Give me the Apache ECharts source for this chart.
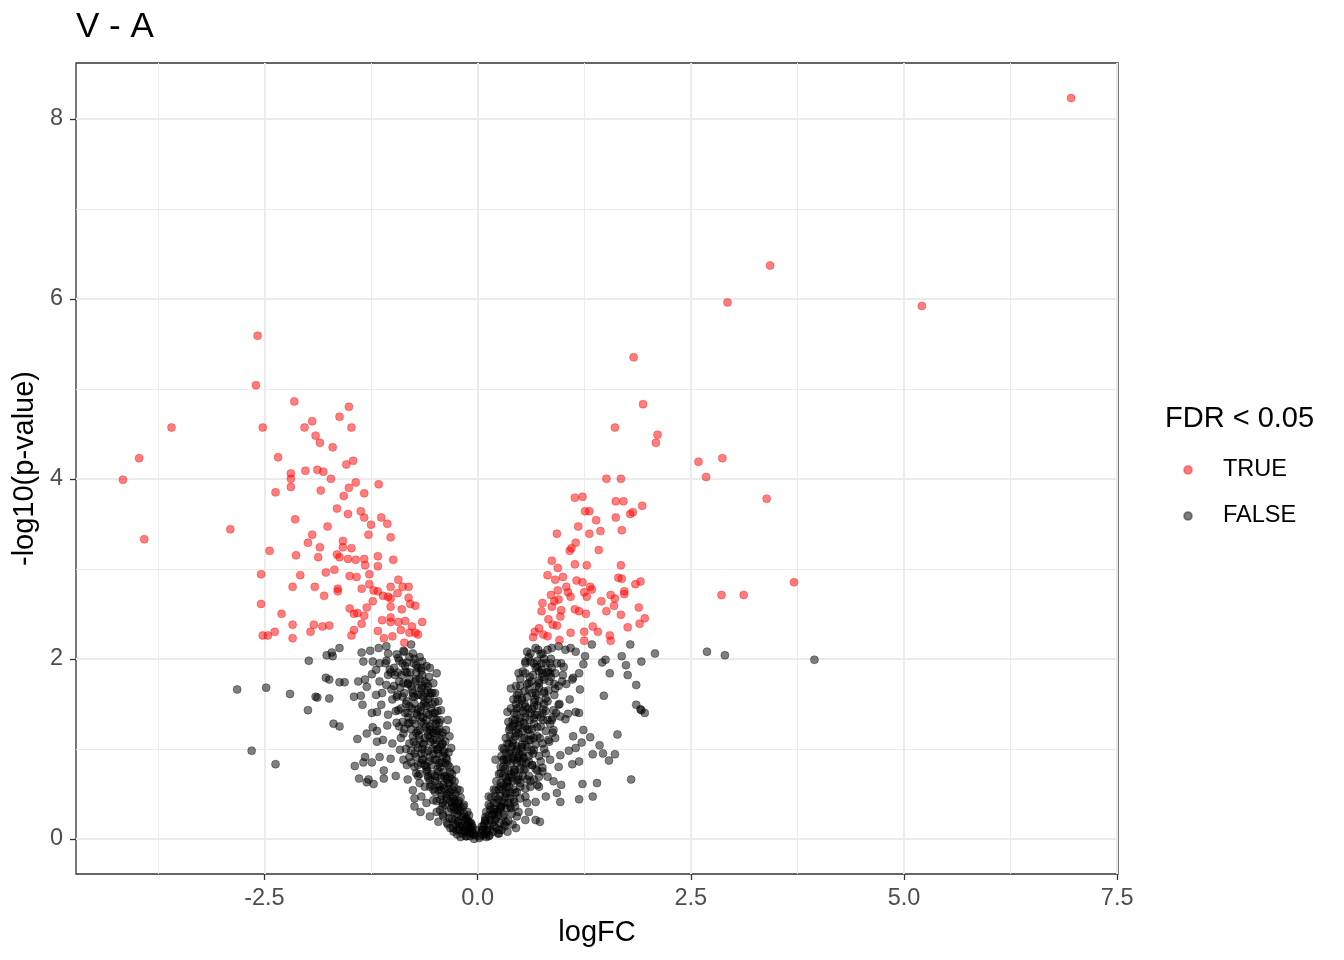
<!DOCTYPE html>
<html>
<head>
<meta charset="utf-8">
<script src="https://cdn.jsdelivr.net/npm/echarts@6/dist/echarts.min.js"></script>
<style>
  html, body { margin: 0; padding: 0; background: #fff; }
  #chart { width: 1344px; height: 960px; }
</style>
</head>
<body>
<div id="chart"></div>
<script>
// volcano plot V - A, values as [logFC, -log10(p)]
var truePoints = [
  // left arm
  [-2.58, 5.59], [-2.60, 5.04], [-2.15, 4.86], [-1.51, 4.80], [-1.62, 4.69], [-3.59, 4.57], [-2.52, 4.57],
  [-2.03, 4.57], [-1.94, 4.64], [-1.48, 4.57], [-1.90, 4.48], [-1.85, 4.40], [-1.70, 4.35], [-3.97, 4.23],
  [-2.34, 4.24], [-1.54, 4.16], [-1.46, 4.20], [-4.16, 3.99], [-2.19, 4.06], [-2.19, 4.00], [-2.19, 3.91],
  [-2.02, 4.09], [-1.88, 4.10], [-1.81, 4.08], [-1.72, 4.00], [-2.37, 3.85], [-1.84, 3.87], [-1.51, 3.90],
  [-1.43, 3.96], [-1.57, 3.81], [-1.33, 3.84], [-1.16, 3.94], [-1.65, 3.67], [-1.52, 3.61], [-1.37, 3.64],
  [-1.33, 3.57], [-1.25, 3.49], [-1.13, 3.57], [-1.06, 3.50], [-1.02, 3.35], [-1.28, 3.38], [-2.14, 3.55],
  [-1.76, 3.47], [-2.90, 3.44], [-3.91, 3.33], [-1.94, 3.38], [-1.99, 3.29], [-1.85, 3.24], [-1.58, 3.31],
  [-1.58, 3.24], [-1.48, 3.23], [-2.44, 3.20], [-2.13, 3.15], [-1.87, 3.13], [-1.65, 3.16], [-1.62, 3.13],
  [-1.52, 3.11], [-1.43, 3.10], [-1.33, 3.11], [-1.32, 3.04], [-1.17, 3.14], [-1.17, 3.03], [-0.99, 3.10],
  [-2.54, 2.94], [-2.08, 2.93], [-1.78, 2.96], [-1.68, 2.99], [-1.50, 2.92], [-1.42, 2.91], [-1.27, 2.94],
  [-2.17, 2.80], [-1.91, 2.80], [-1.64, 2.78], [-1.64, 2.75], [-1.80, 2.70], [-1.36, 2.78], [-1.27, 2.83],
  [-1.22, 2.76], [-1.17, 2.75], [-1.11, 2.70], [-1.02, 2.80], [-0.93, 2.88], [-0.88, 2.80], [-0.81, 2.80],
  [-0.94, 2.73], [-1.05, 2.69], [-0.81, 2.68], [-2.54, 2.61], [-2.30, 2.50], [-2.17, 2.38], [-1.92, 2.38],
  [-1.82, 2.36], [-1.74, 2.37], [-1.96, 2.30], [-1.50, 2.56], [-1.45, 2.50], [-1.41, 2.51], [-1.33, 2.48],
  [-1.30, 2.57], [-1.23, 2.64], [-1.02, 2.67], [-1.02, 2.58], [-0.89, 2.55], [-0.79, 2.61], [-0.73, 2.59],
  [-1.36, 2.39], [-1.45, 2.32], [-1.48, 2.26], [-1.17, 2.31], [-1.12, 2.43], [-1.02, 2.46], [-1.02, 2.41],
  [-0.93, 2.41], [-0.85, 2.42], [-0.65, 2.41], [-0.77, 2.36], [-0.73, 2.29], [-0.80, 2.29], [-0.90, 2.32],
  [-1.00, 2.25], [-1.10, 2.23], [-0.86, 2.18], [-2.52, 2.26], [-2.46, 2.26], [-2.38, 2.30], [-2.17, 2.23],
  [-0.70, 2.27],
  // right arm
  [3.43, 6.37], [2.93, 5.96], [1.83, 5.35], [1.94, 4.83], [1.61, 4.57], [2.11, 4.49], [2.09, 4.40],
  [2.59, 4.19], [2.87, 4.23], [2.68, 4.02], [1.51, 4.00], [1.68, 4.00], [1.14, 3.79], [1.23, 3.80],
  [1.62, 3.75], [1.71, 3.75], [1.93, 3.70], [1.82, 3.63], [1.79, 3.61], [1.26, 3.64], [1.31, 3.64],
  [3.39, 3.78], [1.39, 3.54], [1.62, 3.57], [1.18, 3.47], [1.44, 3.42], [1.69, 3.43], [1.31, 3.39],
  [0.93, 3.39], [1.15, 3.29], [1.10, 3.23], [1.08, 3.20], [1.42, 3.21], [0.87, 3.09], [0.94, 3.01],
  [1.14, 3.05], [1.28, 3.04], [1.68, 3.04], [0.82, 2.93], [0.91, 2.88], [1.00, 2.91], [1.16, 2.87],
  [1.23, 2.85], [1.65, 2.90], [1.69, 2.89], [1.91, 2.86], [1.85, 2.83], [3.71, 2.85], [0.94, 2.76],
  [1.04, 2.80], [1.06, 2.74], [0.86, 2.71], [1.25, 2.74], [1.32, 2.80], [1.34, 2.77], [1.28, 2.69],
  [1.09, 2.69], [1.56, 2.71], [1.61, 2.67], [1.72, 2.75], [1.72, 2.72], [2.86, 2.71], [3.12, 2.71],
  [0.76, 2.62], [0.75, 2.53], [0.87, 2.58], [0.90, 2.64], [0.95, 2.66], [0.98, 2.54], [1.14, 2.55],
  [1.19, 2.53], [1.27, 2.50], [1.45, 2.64], [1.51, 2.53], [1.60, 2.59], [1.68, 2.49], [1.89, 2.57],
  [1.96, 2.45], [1.90, 2.39], [1.76, 2.35], [0.83, 2.44], [0.97, 2.47], [0.93, 2.37], [1.35, 2.36],
  [1.41, 2.30], [1.25, 2.30], [1.09, 2.29], [1.25, 2.20], [1.55, 2.26], [1.56, 2.20], [0.67, 2.30],
  [0.65, 2.24], [0.72, 2.34], [0.77, 2.27], [0.82, 2.25], [0.88, 2.38], [0.96, 2.21],
  [5.21, 5.92], [6.96, 8.23]
];

var falseLeft = [
  [-2.82, 1.66], [-2.65, 0.98], [-2.48, 1.68], [-2.37, 0.83], [-2.20, 1.61], [-1.98, 1.98], [-1.99, 1.43],
  [-1.90, 1.58], [-1.78, 1.79], [-1.69, 1.28], [-1.88, 1.57], [-1.74, 1.56], [-1.74, 1.77], [-1.62, 1.74],
  [-1.56, 1.74], [-1.62, 1.25], [-1.77, 2.04], [-1.71, 2.07], [-1.62, 2.12], [-1.70, 2.03], [-1.41, 1.11],
  [-1.44, 0.81], [-1.39, 0.67], [-1.32, 0.91], [-1.34, 0.85], [-1.24, 0.85], [-1.28, 0.66], [-1.22, 0.61],
  [-1.30, 0.63], [-1.15, 0.91], [-1.10, 0.76], [-1.10, 0.67], [-0.96, 0.70], [-1.02, 0.89], [-1.30, 1.17],
  [-1.23, 1.24], [-1.18, 1.20], [-1.18, 1.08], [-1.11, 1.10], [-1.00, 1.06], [-1.06, 1.26], [-0.95, 1.29],
  [-1.45, 1.58], [-1.37, 1.59], [-1.35, 1.49], [-1.24, 1.40], [-1.18, 1.41], [-1.13, 1.49], [-1.19, 1.60],
  [-1.40, 1.75], [-1.32, 1.77], [-1.30, 1.69], [-1.24, 1.83], [-1.19, 1.88], [-1.36, 2.07], [-1.26, 2.09],
  [-1.16, 2.12], [-1.34, 1.97], [-1.23, 1.97], [-1.15, 1.95], [-1.05, 2.06], [-1.07, 1.98], [-0.93, 2.01],
  [-1.07, 2.14], [-0.87, 2.09], [-1.03, 1.88], [-0.97, 1.82], [-1.07, 1.71], [-1.01, 1.66], [-0.95, 1.58],
  [-1.05, 1.38], [-0.93, 1.43], [-0.83, 1.53], [-0.82, 1.73], [-0.85, 1.86], [-0.76, 2.06], [-0.65, 1.97],
  [-0.66, 1.87], [-0.56, 1.90], [-0.52, 1.73], [-0.50, 1.62], [-0.46, 1.53], [-0.43, 1.43], [-0.37, 1.21],
  [-0.33, 1.14], [-0.31, 1.01], [-0.35, 1.32], [-0.60, 1.73], [-0.64, 1.58], [-0.72, 1.40], [-0.80, 1.29],
  [-0.68, 1.21], [-0.87, 1.17], [-0.80, 1.06], [-0.64, 1.06], [-0.56, 0.91], [-0.72, 0.91], [-0.83, 0.82],
  [-0.82, 0.66], [-0.76, 0.54], [-0.74, 0.45], [-0.74, 0.36], [-0.67, 0.30], [-0.56, 0.25], [-0.46, 0.19],
  [-0.35, 0.16], [-0.29, 0.12], [-0.56, 0.58], [-0.60, 0.77], [-0.48, 0.69], [-0.45, 0.84], [-0.46, 0.54],
  [-0.41, 0.40], [-0.25, 0.32], [-0.33, 0.62], [-0.37, 0.47], [-0.25, 0.77], [-0.21, 0.54], [-0.17, 0.25],
  [-0.09, 0.10], [-0.21, 0.14], [-0.13, 0.03], [-0.04, 0.00], [-0.78, 2.16], [-0.72, 1.93], [-0.48, 1.84],
  [-0.52, 1.40], [-0.45, 1.29], [-0.56, 1.21], [-0.52, 1.10], [-0.41, 1.06], [-0.76, 1.58], [-0.80, 1.47],
  [-0.87, 1.73], [-0.72, 1.77], [-0.66, 1.67], [-0.66, 1.47], [-0.60, 1.32], [-0.76, 1.14], [-0.70, 1.01],
  [-0.48, 0.99], [-0.64, 0.88], [-0.80, 0.91], [-0.87, 0.88], [-0.91, 0.99], [-0.72, 0.73], [-0.68, 0.62],
  [-0.66, 0.47], [-0.60, 0.40], [-0.52, 0.43], [-0.48, 0.30], [-0.41, 0.27], [-0.33, 0.23], [-0.27, 0.21],
  [-0.23, 0.19], [-0.17, 0.14], [-0.43, 0.54], [-0.39, 0.69], [-0.29, 0.47], [-0.23, 0.40], [-0.29, 0.36],
  [-0.17, 0.36], [-0.13, 0.23], [-0.07, 0.16], [-0.06, 0.06], [-0.25, 0.10], [-0.15, 0.08], [-0.09, 0.03],
  [-0.02, 0.10], [-0.58, 0.68], [-0.66, 0.84],
  // dense core
  [-0.05, 0.05], [-0.08, 0.12], [-0.10, 0.18], [-0.12, 0.08], [-0.14, 0.22], [-0.16, 0.28], [-0.18, 0.15],
  [-0.20, 0.35], [-0.22, 0.42], [-0.24, 0.28], [-0.26, 0.50], [-0.28, 0.58], [-0.30, 0.40], [-0.30, 0.66],
  [-0.32, 0.74], [-0.34, 0.55], [-0.35, 0.82], [-0.37, 0.90], [-0.38, 0.70], [-0.40, 0.98], [-0.42, 1.05],
  [-0.42, 0.85], [-0.44, 1.12], [-0.46, 0.95], [-0.47, 1.20], [-0.49, 1.28], [-0.50, 1.05], [-0.52, 1.35],
  [-0.53, 1.18], [-0.55, 1.45], [-0.56, 1.25], [-0.58, 1.55], [-0.60, 1.40], [-0.61, 1.62], [-0.63, 1.50],
  [-0.65, 1.70], [-0.66, 1.30], [-0.68, 1.78], [-0.70, 1.60], [-0.72, 1.85], [-0.74, 1.50], [-0.75, 1.95],
  [-0.78, 1.70], [-0.80, 2.02], [-0.83, 1.85], [-0.86, 1.62], [-0.88, 1.95], [-0.90, 1.45], [-0.92, 1.75],
  [-0.95, 2.05], [-0.98, 1.90], [-1.00, 1.55], [-1.05, 1.82], [-0.62, 1.12], [-0.58, 0.98], [-0.54, 0.82],
  [-0.50, 0.70], [-0.46, 0.60], [-0.42, 0.48], [-0.38, 0.38], [-0.34, 0.30], [-0.30, 0.22], [-0.26, 0.16],
  [-0.22, 0.10], [-0.18, 0.06], [-0.14, 0.03], [-0.70, 1.20], [-0.66, 0.95], [-0.60, 0.80], [-0.56, 0.65],
  [-0.52, 0.55], [-0.48, 0.42], [-0.44, 0.32], [-0.40, 0.25], [-0.36, 0.18], [-0.32, 0.12], [-0.28, 0.08],
  [-0.24, 0.05], [-0.20, 0.02], [-0.76, 1.32], [-0.72, 1.05], [-0.82, 1.40], [-0.86, 1.22], [-0.78, 0.98],
  [-0.68, 0.72], [-0.62, 0.58],
  [-0.06, 0.13], [-0.11, 0.20], [-0.15, 0.12], [-0.19, 0.24], [-0.23, 0.20], [-0.27, 0.30], [-0.21, 0.31],
  [-0.13, 0.16], [-0.09, 0.07], [-0.17, 0.10], [-0.25, 0.38], [-0.29, 0.45], [-0.33, 0.52], [-0.36, 0.44],
  [-0.39, 0.56], [-0.31, 0.34], [-0.27, 0.42], [-0.35, 0.62], [-0.41, 0.36], [-0.44, 0.58], [-0.23, 0.33],
  [-0.30, 0.55], [-0.36, 0.66], [-0.40, 0.74], [-0.44, 0.80], [-0.48, 0.88], [-0.52, 0.94], [-0.38, 0.84],
  [-0.41, 0.92], [-0.46, 0.75], [-0.50, 0.64], [-0.54, 0.72], [-0.57, 0.86], [-0.62, 0.96], [-0.33, 0.68],
  [-0.47, 1.00], [-0.59, 0.75], [-0.65, 0.88], [-0.70, 0.82], [-0.74, 0.95], [-0.44, 1.02], [-0.48, 1.10],
  [-0.51, 1.18], [-0.55, 1.08], [-0.58, 1.15], [-0.61, 1.24], [-0.64, 1.35], [-0.67, 1.42], [-0.53, 1.28],
  [-0.57, 1.38], [-0.60, 1.48], [-0.69, 1.15], [-0.73, 1.28], [-0.77, 1.45], [-0.81, 1.35], [-0.84, 1.50],
  [-0.49, 1.20], [-0.63, 1.05], [-0.71, 1.38], [-0.88, 1.30], [-0.92, 1.25], [-0.96, 1.42], [-0.62, 1.52],
  [-0.66, 1.60], [-0.69, 1.68], [-0.73, 1.75], [-0.76, 1.62], [-0.79, 1.85], [-0.82, 1.72], [-0.85, 1.92],
  [-0.89, 1.82], [-0.92, 1.98], [-0.70, 1.90], [-0.74, 2.00], [-0.65, 1.82], [-0.58, 1.70], [-0.55, 1.62],
  [-0.98, 1.70], [-1.02, 1.85], [-1.08, 1.95], [-1.12, 1.62], [-0.86, 2.08], [-0.94, 1.60], [-1.15, 1.75],
  [-0.12, 0.30], [-0.16, 0.38], [-0.20, 0.46], [-0.24, 0.55], [-0.27, 0.64], [-0.30, 0.72], [-0.33, 0.80],
  [-0.36, 0.88], [-0.39, 0.96], [-0.42, 1.15], [-0.45, 1.22], [-0.48, 1.32], [-0.50, 1.40], [-0.53, 1.50],
  [-0.56, 1.58], [-0.59, 1.65], [-0.62, 1.75], [-0.66, 1.90], [-0.68, 2.02], [-0.28, 0.36], [-0.32, 0.42],
  [-0.36, 0.50], [-0.40, 0.60], [-0.43, 0.68], [-0.47, 0.78], [-0.50, 0.88], [-0.53, 1.00], [-0.56, 1.12],
  [-0.59, 1.20], [-0.63, 1.28], [-0.67, 1.36], [-0.70, 1.44], [-0.74, 1.58], [-0.77, 1.66], [-0.80, 1.78],
  [-0.83, 1.96], [-0.44, 0.44], [-0.50, 0.52], [-0.54, 0.60], [-0.58, 0.70], [-0.62, 0.82], [-0.65, 1.00],
  [-0.68, 1.10], [-0.72, 1.18], [-0.75, 1.08], [-0.78, 1.22], [-0.82, 1.28], [-0.85, 1.40], [-0.88, 1.58],
  [-0.91, 1.68], [-0.94, 1.85], [-0.70, 0.70], [-0.74, 0.80], [-0.78, 0.85], [-0.84, 1.00], [-0.90, 1.12],
  [-0.10, 0.26], [-0.08, 0.18], [-0.06, 0.09], [-0.03, 0.04], [-0.34, 0.96], [-0.38, 1.08], [-0.41, 1.18],
  [-0.44, 1.32], [-0.47, 1.42], [-0.50, 1.52], [-0.53, 1.62], [-0.57, 1.80], [-0.60, 1.92]
];

var falseRight = [
  [2.69, 2.08], [2.90, 2.04], [3.95, 1.99], [1.80, 0.66], [2.08, 2.06], [1.96, 1.40], [1.91, 1.44],
  [1.79, 2.16], [1.69, 2.03], [1.92, 1.97], [1.74, 1.93], [1.76, 1.82], [1.86, 1.71], [1.48, 1.59],
  [1.86, 1.49], [1.92, 1.43], [1.64, 1.16], [1.34, 2.16], [1.26, 2.03], [1.46, 1.96], [1.50, 1.99],
  [1.24, 1.94], [1.55, 1.84], [1.19, 1.84], [1.12, 1.79], [1.20, 1.66], [1.24, 1.21], [1.32, 1.13],
  [1.43, 1.04], [1.35, 0.94], [1.47, 0.95], [1.61, 0.94], [1.54, 0.87], [1.19, 0.86], [1.11, 0.83],
  [1.23, 0.61], [1.40, 0.62], [1.19, 0.44], [1.35, 0.47], [1.12, 1.14], [1.15, 1.01], [1.22, 1.07],
  [1.07, 0.98], [0.97, 0.93], [0.95, 0.80], [0.98, 0.60], [0.93, 0.51], [0.97, 0.41], [0.73, 0.19],
  [0.45, 0.12], [0.60, 0.30], [0.56, 0.21], [1.19, 1.40], [1.15, 1.41], [1.03, 1.33], [1.06, 1.39],
  [0.91, 1.12], [0.89, 1.21], [0.87, 1.32], [0.89, 1.43], [0.82, 1.53], [0.78, 1.64], [0.91, 1.67],
  [0.99, 1.75], [1.11, 1.77], [1.01, 1.91], [1.15, 2.08], [1.09, 2.12], [1.03, 2.10], [0.95, 2.14],
  [0.87, 2.12], [0.82, 2.10], [0.76, 2.06], [0.68, 2.12], [0.62, 2.06], [0.56, 1.97], [0.62, 1.97],
  [0.70, 1.91], [0.85, 1.95], [0.85, 1.84], [0.76, 1.84], [0.56, 1.84], [0.60, 1.73], [0.72, 1.73],
  [0.78, 1.77], [0.46, 1.60], [0.52, 1.54], [0.68, 1.62], [0.72, 1.53], [0.46, 1.45], [0.56, 1.40],
  [0.66, 1.34], [0.76, 1.40], [0.82, 1.32], [0.41, 1.25], [0.48, 1.17], [0.60, 1.21], [0.70, 1.14],
  [0.76, 1.06], [0.83, 1.10], [0.37, 1.06], [0.46, 1.03], [0.56, 1.04], [0.66, 0.99], [0.80, 0.95],
  [0.85, 0.88], [0.31, 0.88], [0.41, 0.90], [0.52, 0.86], [0.64, 0.82], [0.76, 0.79], [0.82, 0.69],
  [0.89, 0.64], [0.27, 0.73], [0.37, 0.69], [0.48, 0.66], [0.62, 0.64], [0.72, 0.58], [0.21, 0.54],
  [0.33, 0.51], [0.44, 0.51], [0.56, 0.47], [0.68, 0.41], [0.80, 0.47], [0.15, 0.36], [0.27, 0.36],
  [0.39, 0.34], [0.48, 0.30], [0.09, 0.21], [0.21, 0.21], [0.33, 0.19], [0.41, 0.16], [0.05, 0.10],
  [0.15, 0.10], [0.25, 0.10], [0.35, 0.08], [0.25, 0.06], [0.13, 0.03], [0.02, 0.01], [0.91, 1.84],
  [0.95, 1.49], [0.97, 1.36], [0.39, 1.67], [0.35, 1.41], [0.37, 1.21], [0.21, 0.88], [0.29, 1.01],
  [0.27, 0.58], [0.13, 0.47], [0.68, 0.21], [0.58, 0.40], [0.66, 1.47], [0.44, 1.32], [0.54, 1.29],
  [0.62, 1.10], [0.43, 0.77], [0.54, 0.77], [0.72, 0.69], [0.35, 0.64], [0.50, 0.58], [0.43, 0.41],
  [0.31, 0.27], [0.19, 0.27], [0.46, 0.25], [0.31, 0.16], [0.09, 0.06], [0.19, 0.14], [0.52, 0.93],
  [0.56, 1.47],
  // dense core
  [0.04, 0.06], [0.07, 0.14], [0.09, 0.20], [0.11, 0.10], [0.13, 0.26], [0.15, 0.32], [0.17, 0.18],
  [0.19, 0.40], [0.21, 0.47], [0.23, 0.30], [0.25, 0.55], [0.27, 0.62], [0.29, 0.42], [0.30, 0.70],
  [0.32, 0.78], [0.34, 0.58], [0.35, 0.86], [0.37, 0.95], [0.39, 0.72], [0.40, 1.02], [0.42, 1.10],
  [0.43, 0.88], [0.45, 1.18], [0.47, 1.00], [0.48, 1.26], [0.50, 1.34], [0.52, 1.12], [0.53, 1.42],
  [0.55, 1.50], [0.56, 1.25], [0.58, 1.58], [0.60, 1.66], [0.62, 1.40], [0.63, 1.75], [0.65, 1.82],
  [0.67, 1.55], [0.68, 1.90], [0.70, 1.98], [0.72, 1.68], [0.74, 2.05], [0.76, 1.80], [0.78, 1.50],
  [0.80, 1.95], [0.83, 1.65], [0.86, 2.00], [0.88, 1.35], [0.90, 1.72], [0.93, 1.95], [0.96, 1.50],
  [1.00, 1.82], [0.30, 0.25], [0.34, 0.34], [0.38, 0.45], [0.42, 0.55], [0.46, 0.65], [0.50, 0.78],
  [0.54, 0.90], [0.58, 1.02], [0.62, 1.15], [0.66, 1.28], [0.70, 1.38], [0.74, 1.25], [0.26, 0.18],
  [0.22, 0.12], [0.18, 0.08], [0.14, 0.04], [0.10, 0.02], [0.60, 0.70], [0.56, 0.56], [0.50, 0.45],
  [0.44, 0.36], [0.40, 0.28], [0.36, 0.20], [0.32, 0.14], [0.28, 0.10], [0.24, 0.06], [0.68, 1.05],
  [0.72, 0.92], [0.64, 0.82], [0.80, 1.20], [0.84, 1.08], [0.76, 0.75], [0.70, 0.60],
  [0.05, 0.14], [0.09, 0.24], [0.13, 0.16], [0.17, 0.27], [0.21, 0.22], [0.25, 0.32], [0.19, 0.33],
  [0.11, 0.08], [0.07, 0.04], [0.15, 0.21], [0.22, 0.40], [0.26, 0.48], [0.29, 0.55], [0.32, 0.46],
  [0.35, 0.62], [0.28, 0.36], [0.24, 0.44], [0.38, 0.52], [0.41, 0.64], [0.36, 0.40], [0.20, 0.30],
  [0.31, 0.60], [0.33, 0.68], [0.36, 0.76], [0.39, 0.84], [0.42, 0.92], [0.45, 0.98], [0.34, 0.88],
  [0.38, 0.97], [0.44, 0.76], [0.48, 0.70], [0.50, 0.86], [0.53, 0.96], [0.57, 0.84], [0.30, 0.80],
  [0.47, 0.90], [0.60, 0.92], [0.65, 0.95], [0.68, 0.78], [0.58, 0.66], [0.41, 1.06], [0.44, 1.14],
  [0.47, 1.22], [0.50, 1.30], [0.53, 1.20], [0.56, 1.35], [0.59, 1.45], [0.46, 1.38], [0.49, 1.46],
  [0.43, 1.28], [0.60, 1.10], [0.64, 1.22], [0.67, 1.38], [0.70, 1.48], [0.73, 1.12], [0.77, 1.32],
  [0.80, 1.42], [0.85, 1.28], [0.52, 1.05], [0.38, 1.15], [0.88, 1.18], [0.92, 1.40], [0.52, 1.56],
  [0.55, 1.64], [0.58, 1.72], [0.61, 1.80], [0.64, 1.62], [0.66, 1.95], [0.69, 1.70], [0.72, 1.86],
  [0.75, 1.95], [0.78, 1.62], [0.81, 1.85], [0.84, 1.75], [0.87, 1.90], [0.50, 1.70], [0.47, 1.55],
  [0.90, 1.60], [0.95, 1.70], [0.98, 1.95], [1.04, 1.72], [0.60, 2.02], [1.08, 1.55], [0.71, 2.10],
  [0.10, 0.30], [0.13, 0.38], [0.16, 0.46], [0.19, 0.55], [0.22, 0.64], [0.25, 0.72], [0.27, 0.80],
  [0.30, 0.88], [0.33, 0.96], [0.35, 1.06], [0.38, 1.24], [0.41, 1.32], [0.43, 1.40], [0.45, 1.50],
  [0.48, 1.62], [0.50, 1.78], [0.53, 1.86], [0.56, 1.95], [0.58, 2.08], [0.24, 0.26], [0.27, 0.34],
  [0.31, 0.40], [0.34, 0.50], [0.37, 0.58], [0.40, 0.68], [0.43, 0.74], [0.46, 0.84], [0.49, 0.94],
  [0.52, 1.02], [0.55, 1.12], [0.58, 1.22], [0.61, 1.32], [0.64, 1.44], [0.66, 1.52], [0.69, 1.60],
  [0.72, 1.76], [0.75, 1.88], [0.78, 2.00], [0.38, 0.36], [0.42, 0.44], [0.46, 0.52], [0.50, 0.62],
  [0.53, 0.70], [0.56, 0.78], [0.60, 0.86], [0.63, 0.98], [0.66, 1.12], [0.70, 1.24], [0.74, 1.35],
  [0.77, 1.44], [0.80, 1.56], [0.83, 1.86], [0.86, 1.80], [0.62, 0.58], [0.66, 0.66], [0.70, 0.76],
  [0.74, 0.86], [0.78, 1.00], [0.08, 0.17], [0.06, 0.10], [0.03, 0.03], [0.28, 0.92], [0.31, 1.00],
  [0.33, 1.12], [0.36, 1.30], [0.39, 1.45], [0.42, 1.55], [0.45, 1.70], [0.48, 1.84]
];

var xTicks = [-2.5, 0, 2.5, 5, 7.5];
var xMinor = [-3.75, -1.25, 1.25, 3.75, 6.25];
var yTicks = [0, 2, 4, 6, 8];
var yMinor = [1, 3, 5, 7];

var FONT = 'Liberation Sans';

var gridLines = [];
xMinor.forEach(function (v) { gridLines.push({ xAxis: v, lineStyle: { color: '#ebebeb', width: 1, type: 'solid' } }); });
yMinor.forEach(function (v) { gridLines.push({ yAxis: v, lineStyle: { color: '#ebebeb', width: 1, type: 'solid' } }); });
xTicks.forEach(function (v) { gridLines.push({ xAxis: v, lineStyle: { color: '#ebebeb', width: 2, type: 'solid' } }); });
yTicks.forEach(function (v) { gridLines.push({ yAxis: v, lineStyle: { color: '#ebebeb', width: 2, type: 'solid' } }); });

var chart = echarts.init(document.getElementById('chart'), null, { renderer: 'canvas' });

var option = {
    backgroundColor: '#ffffff',
    animation: false,
    title: [
        {
            text: 'V - A', left: 76, top: 10, padding: 0,
            textStyle: { fontFamily: FONT, fontSize: 35, fontWeight: 'normal', color: '#000' }
        },
        {
            text: 'FDR < 0.05', left: 1165, top: 404, padding: 0,
            textStyle: { fontFamily: FONT, fontSize: 29, fontWeight: 'normal', color: '#000' }
        }
    ],
    legend: {
        data: ['TRUE', 'FALSE'],
        orient: 'vertical',
        left: 1178, top: 453,
        itemWidth: 60, itemHeight: 8, itemGap: 22,
        textStyle: { fontFamily: FONT, fontSize: 23.5, color: '#000', lineHeight: 24 }
    },
    grid: {
        left: 76, top: 63, width: 1042, height: 811,
        show: true, borderColor: '#333', borderWidth: 1.3, backgroundColor: '#fff'
    },
    xAxis: {
        type: 'value', min: -4.71, max: 7.51,
        name: 'logFC', nameLocation: 'middle', nameGap: 44,
        nameTextStyle: { fontFamily: FONT, fontSize: 29, color: '#000' },
        axisLine: { show: false, onZero: false },
        axisTick: { show: true, length: 6, customValues: xTicks, lineStyle: { color: '#333', width: 1.3 } },
        axisLabel: {
            customValues: xTicks, margin: 13, fontFamily: FONT, fontSize: 23.5, color: '#4d4d4d',
            formatter: function (v) { return v.toFixed(1); }
        },
        splitLine: { show: false }
    },
    yAxis: {
        type: 'value', min: -0.39, max: 8.62,
        name: '-log10(p-value)', nameLocation: 'middle', nameGap: 28, nameRotate: 90,
        nameTextStyle: { fontFamily: FONT, fontSize: 29, color: '#000' },
        axisLine: { show: false, onZero: false },
        axisTick: { show: true, length: 6, customValues: yTicks, lineStyle: { color: '#333', width: 1.3 } },
        axisLabel: {
            customValues: yTicks, margin: 13, fontFamily: FONT, fontSize: 23.5, color: '#4d4d4d'
        },
        splitLine: { show: false }
    },
    series: [
        {
            name: 'grid', type: 'scatter', data: [], silent: true, z: 0,
            markLine: { silent: true, symbol: 'none', label: { show: false }, animation: false, z: 0, data: gridLines }
        },
        {
            name: 'FALSE', type: 'scatter', symbol: 'circle', symbolSize: 8, z: 2,
            itemStyle: { color: 'rgba(0,0,0,0.5)', borderColor: 'rgba(0,0,0,0.35)', borderWidth: 1, opacity: 1 },
            data: falseLeft.concat(falseRight)
        },
        {
            name: 'TRUE', type: 'scatter', symbol: 'circle', symbolSize: 8, z: 3,
            itemStyle: { color: 'rgba(255,0,0,0.5)', borderColor: 'rgba(255,0,0,0.35)', borderWidth: 1, opacity: 1 },
            data: truePoints
        }
    ]
};

chart.setOption(option);
</script>
</body>
</html>
